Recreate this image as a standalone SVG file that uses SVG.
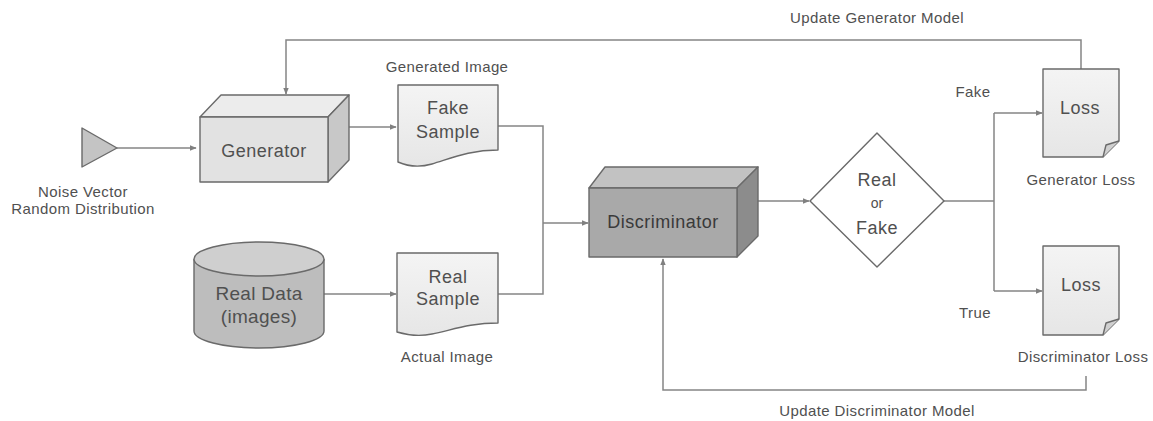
<svg xmlns="http://www.w3.org/2000/svg" width="1153" height="421" viewBox="0 0 1153 421">
<defs>
<marker id="ah" viewBox="0 0 10 10" refX="9" refY="5" markerWidth="7" markerHeight="7" orient="auto" markerUnits="userSpaceOnUse">
<path d="M0,1 L10,5 L0,9 Z" fill="#808080"/>
</marker>
<linearGradient id="docg" x1="0" y1="0" x2="0" y2="1">
<stop offset="0" stop-color="#f4f4f4"/><stop offset="1" stop-color="#e6e6e6"/>
</linearGradient>
</defs>
<style>
.t{font-family:"Liberation Sans",Arial,sans-serif;fill:#505050;text-anchor:middle}
.lbl{font-size:15px;letter-spacing:0.4px}
.nd{font-size:18px;letter-spacing:0.5px}
.sh{stroke:#6a6a6a;stroke-width:1.4;stroke-linejoin:round}
.cn{fill:none;stroke:#858585;stroke-width:1.5}
</style>
<rect width="1153" height="421" fill="#ffffff"/>

<g id="connectors">
<path class="cn" d="M117,148 H196" marker-end="url(#ah)"/>
<path class="cn" d="M349,127 H396" marker-end="url(#ah)"/>
<path class="cn" d="M324,294 H396" marker-end="url(#ah)"/>
<path class="cn" d="M498,126 H543 V294 H498"/>
<path class="cn" d="M543,223 H588" marker-end="url(#ah)"/>
<path class="cn" d="M758,201 H809" marker-end="url(#ah)"/>
<path class="cn" d="M944,201 H994"/>
<path class="cn" d="M994,113 V291"/>
<path class="cn" d="M994,113 H1042" marker-end="url(#ah)"/>
<path class="cn" d="M994,291 H1042" marker-end="url(#ah)"/>
<path class="cn" d="M1081,69 V40 H286 V94" marker-end="url(#ah)"/>
<path class="cn" d="M1086,376 V390 H663 V259" marker-end="url(#ah)"/>
</g>

<g id="noise">
<path class="sh" d="M82,128 L117,148 L82,167 Z" fill="#c4c4c4"/>
<text class="t lbl" x="83" y="197">Noise Vector</text>
<text class="t lbl" x="83" y="214">Random Distribution</text>
</g>

<g id="generator">
<path class="sh" d="M200,117 L221,95 L349,95 L328,117 Z" fill="#ececec"/>
<path class="sh" d="M328,117 L349,95 L349,160 L328,182 Z" fill="#c8c8c8"/>
<rect class="sh" x="200" y="117" width="128" height="65" fill="#e2e2e2"/>
<text class="t nd" x="264" y="157">Generator</text>
</g>

<g id="fake-sample">
<path class="sh" d="M398,85 H498 V150 C470,150 452,158 432,164 C418,168 407,166 398,162 Z" fill="url(#docg)"/>
<text class="t lbl" x="447" y="72">Generated Image</text>
<text class="t nd" x="448" y="114">Fake</text>
<text class="t nd" x="448" y="138">Sample</text>
</g>

<g id="real-data">
<path class="sh" d="M194,259 V331 A65,17 0 0 0 324,331 V259" fill="#bdbdbd"/>
<ellipse class="sh" cx="259" cy="259" rx="65" ry="17" fill="#cfcfcf"/>
<text class="t" style="font-size:19px;letter-spacing:0.3px" x="259" y="300">Real Data</text>
<text class="t" style="font-size:19px;letter-spacing:0.3px" x="259" y="323">(images)</text>
</g>

<g id="real-sample">
<path class="sh" d="M397,253 H498 V323 C470,323 452,330 432,334 C418,337 407,335 397,332 Z" fill="url(#docg)"/>
<text class="t nd" x="448" y="283">Real</text>
<text class="t nd" x="448" y="305">Sample</text>
<text class="t lbl" x="447" y="362">Actual Image</text>
</g>

<g id="discriminator">
<path class="sh" d="M589,188 L605,167 L758,167 L737,188 Z" fill="#c2c2c2"/>
<path class="sh" d="M737,188 L758,167 L758,236 L737,257 Z" fill="#8c8c8c"/>
<rect class="sh" x="589" y="188" width="148" height="69" fill="#a9a9a9"/>
<text class="t nd" x="663" y="228" style="fill:#3a3a3a">Discriminator</text>
</g>

<g id="decision">
<path class="sh" d="M810,201 L877,133 L944,201 L877,267 Z" fill="#ffffff"/>
<text class="t nd" x="877" y="186">Real</text>
<text class="t" style="font-size:14px" x="877" y="208">or</text>
<text class="t nd" x="877" y="234">Fake</text>
</g>

<g id="generator-loss">
<path class="sh" d="M1043,69 H1119 V141 L1103,157 H1043 Z" fill="url(#docg)"/>
<path class="sh" d="M1119,141 L1106,145 L1103,157" fill="#d0d0d0"/>
<text class="t nd" x="1080" y="114">Loss</text>
<text class="t lbl" x="1081" y="185">Generator Loss</text>
</g>

<g id="discriminator-loss">
<path class="sh" d="M1043,246 H1119 V319 L1103,335 H1043 Z" fill="url(#docg)"/>
<path class="sh" d="M1119,319 L1106,323 L1103,335" fill="#d0d0d0"/>
<text class="t nd" x="1081" y="291">Loss</text>
<text class="t lbl" x="1083" y="362">Discriminator Loss</text>
</g>

<g id="labels">
<text class="t lbl" x="877" y="23">Update Generator Model</text>
<text class="t lbl" x="877" y="416">Update Discriminator Model</text>
<text class="t lbl" x="973" y="97">Fake</text>
<text class="t lbl" x="975" y="318">True</text>
</g>
</svg>
